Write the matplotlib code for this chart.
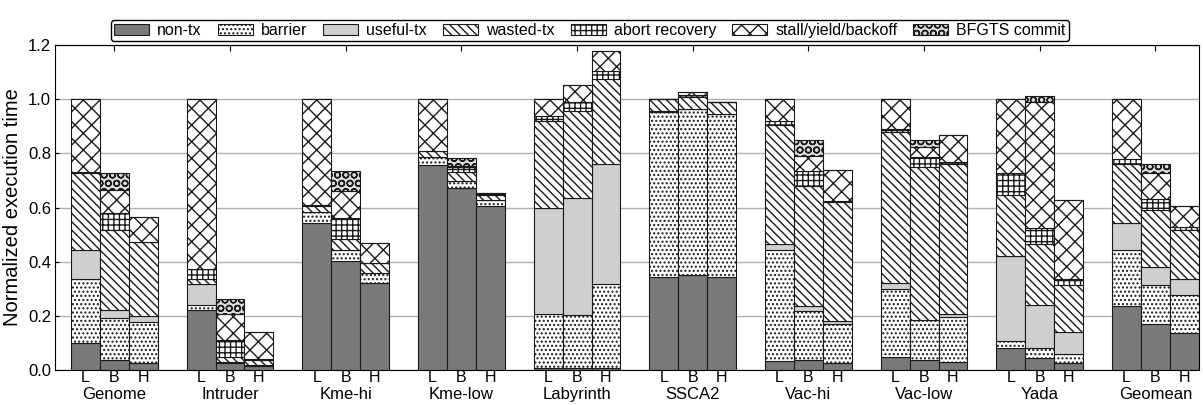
import matplotlib
matplotlib.use("Agg")
import matplotlib.pyplot as plt
import numpy as np

plt.rcParams.update({
    "font.family": ["Liberation Sans", "DejaVu Sans"],
    "font.size": 12,
    "hatch.linewidth": 1.0,
})

benchmarks = ["Genome", "Intruder", "Kme-hi", "Kme-low", "Labyrinth",
              "SSCA2", "Vac-hi", "Vac-low", "Yada", "Geomean"]
configs = ["L", "B", "H"]
components = ["non-tx", "barrier", "useful-tx", "wasted-tx",
              "abort recovery", "stall/yield/backoff", "BFGTS commit"]

# per benchmark: L, B, H
non_tx = [0.102, 0.037, 0.028,  0.221, 0.027, 0.015,  0.542, 0.401, 0.323,
          0.758, 0.672, 0.605,  0.009, 0.009, 0.009,  0.344, 0.352, 0.344,
          0.034, 0.039, 0.028,  0.049, 0.039, 0.031,  0.083, 0.045, 0.025,
          0.237, 0.169, 0.137]
barrier = [0.235, 0.157, 0.150,  0.018, 0.004, 0.004,  0.041, 0.041, 0.037,
           0.027, 0.025, 0.023,  0.200, 0.193, 0.310,  0.609, 0.611, 0.601,
           0.408, 0.179, 0.141,  0.252, 0.145, 0.165,  0.025, 0.038, 0.034,
           0.205, 0.144, 0.142]
useful_tx = [0.105, 0.027, 0.021,  0.080, 0.000, 0.000,  0.000, 0.000, 0.000,
             0.000, 0.000, 0.000,  0.390, 0.434, 0.442,  0.002, 0.002, 0.002,
             0.024, 0.018, 0.013,  0.022, 0.002, 0.010,  0.315, 0.159, 0.080,
             0.100, 0.067, 0.056]
wasted_tx = [0.284, 0.297, 0.273,  0.018, 0.016, 0.020,  0.024, 0.043, 0.035,
             0.022, 0.033, 0.020,  0.319, 0.321, 0.313,  0.045, 0.044, 0.041,
             0.438, 0.445, 0.438,  0.554, 0.565, 0.555,  0.225, 0.224, 0.176,
             0.219, 0.211, 0.184]
abort_recovery = [0.005, 0.061, 0.002,  0.037, 0.066, 0.003,  0.002, 0.077, 0.002,
                  0.002, 0.021, 0.002,  0.021, 0.031, 0.030,  0.000, 0.008, 0.000,
                  0.016, 0.055, 0.006,  0.013, 0.034, 0.006,  0.078, 0.059, 0.022,
                  0.018, 0.041, 0.009]
stall = [0.269, 0.086, 0.090,  0.626, 0.096, 0.099,  0.391, 0.098, 0.073,
         0.191, 0.003, 0.003,  0.061, 0.065, 0.074,  0.000, 0.008, 0.000,
         0.080, 0.055, 0.113,  0.110, 0.037, 0.100,  0.274, 0.466, 0.291,
         0.221, 0.094, 0.079]
bfgts_commit = [0.000, 0.061, 0.000,  0.000, 0.053, 0.000,  0.000, 0.074, 0.000,
                0.000, 0.028, 0.000,  0.000, 0.000, 0.000,  0.000, 0.000, 0.000,
                0.000, 0.058, 0.000,  0.000, 0.027, 0.000,  0.000, 0.019, 0.000,
                0.000, 0.035, 0.000]

series = [non_tx, barrier, useful_tx, wasted_tx, abort_recovery, stall, bfgts_commit]
faces = ["#7a7a7a", "white", "#cfcfcf", "white", "white", "white", "#dcdcdc"]
hatches = [None, "....", None, "\\\\\\\\", "+++", "xx", "OO"]

width = 0.25
x = np.array([g + (j - 1) * width for g in range(len(benchmarks))
              for j in range(len(configs))])

fig = plt.figure(figsize=(12.03, 4.05), dpi=100)
ax = fig.add_axes([0.046, 0.086, 0.951, 0.803])
ax.set_axisbelow(True)
ax.yaxis.grid(True, color="#b0b0b0", lw=1.0)

bottom = np.zeros(len(x))
for vals, name, fc, h in zip(series, components, faces, hatches):
    vals = np.array(vals)
    ax.bar(x, vals, width, bottom=bottom, color=fc, hatch=h,
           edgecolor="#1a1a1a", linewidth=0.8, label=name)
    bottom += vals

ax.set_xlim(-0.51, 9.38)
ax.set_ylim(0, 1.2)
ax.set_yticks(np.arange(0, 1.21, 0.2))
ax.set_yticklabels([f"{v:.1f}" for v in np.arange(0, 1.21, 0.2)])
ax.tick_params(axis="y", direction="in", length=3, pad=3)
ax.set_ylabel("Normalized execution time", fontsize=14.5, labelpad=4)

ax.set_xticks(x)
ax.set_xticklabels(configs * len(benchmarks), fontsize=11.5)
ax.tick_params(axis="x", length=0, pad=0)
for g, name in enumerate(benchmarks):
    ax.text(g, -0.076, name, transform=ax.get_xaxis_transform(),
            ha="center", va="center", fontsize=12)

top = ax.secondary_xaxis("top")
top.set_xticks(range(len(benchmarks)))
top.set_xticklabels([])
top.tick_params(direction="in", length=4)

fig.legend(loc="upper center", bbox_to_anchor=(590 / 1203, 1 - 12 / 405),
           ncol=7, fontsize=11.5, handlelength=2.2, handleheight=0.6,
           columnspacing=1.0, handletextpad=0.5, borderpad=0.2,
           edgecolor="black", fancybox=True, framealpha=1)

fig.savefig("out.png", dpi=100)
